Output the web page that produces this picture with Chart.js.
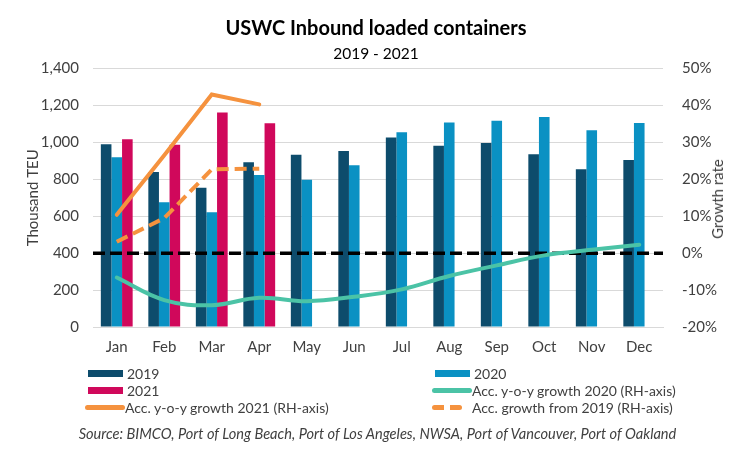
<html>
<head>
  <script src="https://cdn.jsdelivr.net/npm/chart.js@4.4.1/dist/chart.umd.min.js"></script>
</head>

<body style="padding: 0; margin: 0; font-family: Lato; background: #fff;">

<div style="position: relative; width: 730px; height: 456px;">
  <canvas id="chart"></canvas>
  <div id="legend"></div>
  <!-- right axis title reads bottom-to-top like the left one -->
  <div style="position: absolute; left: 717px; top: 199px; transform: translate(-50%, -50%) rotate(-90deg); font-size: 15px; color: #404040; white-space: nowrap;">Growth rate</div>
  <div id="source" style="position: absolute; left: 0; top: 425px; width: 755px; text-align: center; font-style: italic; font-size: 14.6px; color: #404040;">
    Source: BIMCO, Port of Long Beach, Port of Los Angeles, NWSA, Port of Vancouver, Port of Oakland
  </div>
</div>

<script>
  const months = ['Jan', 'Feb', 'Mar', 'Apr', 'May', 'Jun', 'Jul', 'Aug', 'Sep', 'Oct', 'Nov', 'Dec']

  // thousand TEU (left axis)
  const teu2019 = [990, 840, 755, 893, 933, 953, 1027, 982, 997, 936, 855, 905]
  const teu2020 = [920, 676, 622, 823, 798, 877, 1055, 1108, 1117, 1138, 1066, 1105]
  const teu2021 = [1017, 988, 1162, 1104, null, null, null, null, null, null, null, null]

  // accumulated growth, % (right axis)
  const growth2020 = [-6.6, -12.7, -14.1, -12.1, -13.0, -11.8, -9.8, -6.2, -3.3, -0.6, 0.9, 2.3]
  const growth2021 = [10.4, 26.5, 43.0, 40.3, null, null, null, null, null, null, null, null]
  const growthFrom2019 = [3.1, 9.5, 22.7, 22.9, null, null, null, null, null, null, null, null]

  const leftTicks = {min: 0, max: 1400, step: 200}
  const rightTicks = {min: -20, max: 50, step: 10}

  const textColor = '#404040'
  const font = 'Lato'

  const series = [
    {label: '2019', type: 'bar', data: teu2019, color: '#0d4c6c'},
    {label: '2020', type: 'bar', data: teu2020, color: '#0a91c3'},
    {label: '2021', type: 'bar', data: teu2021, color: '#d0085b'},
    {label: 'Acc. y-o-y growth 2020 (RH-axis)', type: 'line', data: growth2020, color: '#4bc3a6', tension: 0.4},
    {label: 'Acc. y-o-y growth 2021 (RH-axis)', type: 'line', data: growth2021, color: '#f5923e', tension: 0},
    {label: 'Acc. growth from 2019 (RH-axis)', type: 'line', data: growthFrom2019, color: '#f5923e', tension: 0, dash: [12, 6]},
  ]

  // dashed black reference line at 0% (drawn over bars, under lines)
  const zeroLine = {
    id: 'zeroLine',
    afterDatasetDraw(chart, args) {
      if (args.index !== 0) return
      const {ctx, chartArea, scales} = chart
      const y = scales.y1.getPixelForValue(0)
      ctx.save()
      ctx.strokeStyle = '#000'
      ctx.lineWidth = 3.5
      ctx.setLineDash([12, 5])
      ctx.beginPath()
      ctx.moveTo(chartArea.left, y)
      ctx.lineTo(chartArea.right, y)
      ctx.stroke()
      ctx.restore()
    }
  }

  new Chart(document.getElementById('chart').getContext('2d'), {
    data: {
      labels: months,
      datasets: series.map(s => s.type === 'bar' ? {
        type: 'bar',
        label: s.label,
        data: s.data,
        backgroundColor: s.color,
        barPercentage: 1,
        categoryPercentage: 0.67,
        yAxisID: 'y',
        order: 1,
      } : {
        type: 'line',
        label: s.label,
        data: s.data,
        borderColor: s.color,
        borderWidth: 4,
        borderDash: s.dash || [],
        borderCapStyle: s.dash ? 'butt' : 'round',
        tension: s.tension,
        pointRadius: 0,
        fill: false,
        yAxisID: 'y1',
        order: 0,
      })
    },
    options: {
      responsive: true,
      maintainAspectRatio: false,
      animation: false,
      layout: {padding: {left: 22, right: 0, top: 0, bottom: 99}},
      plugins: {
        legend: {display: false},
        tooltip: {enabled: false},
        title: {
          display: true,
          text: 'USWC Inbound loaded containers',
          color: '#000',
          font: {family: font, size: 20, weight: 'bold'},
          padding: {top: 17, bottom: 0},
        },
        subtitle: {
          display: true,
          text: '2019 - 2021',
          color: '#000',
          font: {family: font, size: 15.5},
          padding: {top: 4, bottom: 5},
        },
      },
      scales: {
        x: {
          grid: {display: false, drawTicks: false},
          border: {display: true, color: '#d9d9d9'},
          ticks: {color: textColor, font: {family: font, size: 15}, padding: 11},
          afterFit: scale => { scale.height = 30 },
        },
        y: {
          position: 'left',
          min: leftTicks.min,
          max: leftTicks.max,
          grid: {color: '#d9d9d9', drawTicks: false},
          border: {display: false},
          ticks: {
            stepSize: leftTicks.step,
            color: textColor,
            font: {family: font, size: 15},
            padding: 14,
            callback: v => v.toLocaleString('en-US'),
          },
          title: {display: true, text: 'Thousand TEU', color: textColor, font: {family: font, size: 15}, padding: {top: 2, bottom: 0}},
          afterFit: scale => { scale.width = 71 },
        },
        y1: {
          position: 'right',
          min: rightTicks.min,
          max: rightTicks.max,
          grid: {drawOnChartArea: false, drawTicks: false},
          border: {display: false},
          ticks: {
            stepSize: rightTicks.step,
            color: textColor,
            font: {family: font, size: 15},
            padding: 19,
            callback: v => v + '%',
          },
          afterFit: scale => { scale.width = 67 },
        },
      },
    },
    plugins: [zeroLine],
  })

  // two-column legend under the chart
  const legendElem = document.getElementById('legend')
  series.forEach((s, i) => {
    const col = i % 2
    const row = Math.floor(i / 2)
    const item = document.createElement('div')
    item.style.cssText = `position: absolute; left: ${col ? 432 : 85}px; top: ${364 + row * 17}px; height: 18px; display: flex; align-items: center; font-size: 14px; color: ${textColor}; white-space: nowrap;`
    const swatch = document.createElement('span')
    if (s.type === 'bar')
      swatch.style.cssText = `display: inline-block; width: 35px; height: 7px; margin-left: 3px; margin-right: 4px; background: ${s.color};`
    else if (s.dash)
      swatch.style.cssText = `display: inline-block; width: 30px; height: 5px; margin-right: 10px; background: repeating-linear-gradient(90deg, ${s.color} 0 12px, transparent 12px 18px); border-radius: 3px;`
    else
      swatch.style.cssText = `display: inline-block; width: 40px; height: 5px; margin-right: 0px; background: ${s.color}; border-radius: 3px;`
    item.appendChild(swatch)
    item.appendChild(document.createTextNode(s.label))
    legendElem.appendChild(item)
  })
</script>
</body>
</html>
